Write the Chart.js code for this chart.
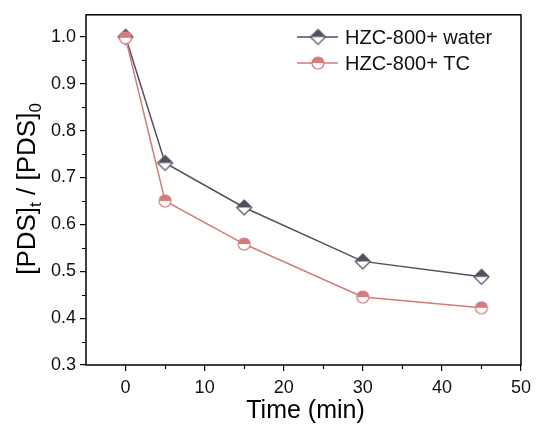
<!DOCTYPE html>
<html>
<head>
<meta charset="utf-8">
<script src="https://cdn.jsdelivr.net/npm/chart.js@4.4.1/dist/chart.umd.min.js"></script>
<style>
  html, body { margin: 0; padding: 0; background: #fff; }
  #wrap { width: 537px; height: 426px; }
</style>
</head>
<body>
<div id="wrap"><canvas id="chart" width="537" height="426"></canvas></div>
<script>
// data
const times = [0, 5, 15, 30, 45];
const waterValues = [1.0, 0.731, 0.636, 0.521, 0.488];
const tcValues = [0.998, 0.650, 0.558, 0.445, 0.422];
const seriesNames = ['HZC-800+ water', 'HZC-800+ TC'];
const xTicks = [0, 10, 20, 30, 40, 50];
const xMinorTicks = [5, 15, 25, 35, 45];
const yTicks = [0.3, 0.4, 0.5, 0.6, 0.7, 0.8, 0.9, 1.0];
const yMinorTicks = [0.35, 0.45, 0.55, 0.65, 0.75, 0.85, 0.95];

const FONT = 'Liberation Sans, Arial, sans-serif';
const waterColor = '#50505f';
const tcColor = '#d67b7b';

// half-filled marker images
function halfDiamond(r, color) {
    const c = document.createElement('canvas');
    const s = 2 * r + 4;
    c.width = s; c.height = s;
    const g = c.getContext('2d');
    const m = s / 2;
    g.beginPath();
    g.moveTo(m, m - r); g.lineTo(m + r, m); g.lineTo(m, m + r); g.lineTo(m - r, m);
    g.closePath();
    g.fillStyle = '#fff';
    g.fill();
    g.save();
    g.clip();
    g.fillStyle = color;
    g.fillRect(0, 0, s, m);
    g.restore();
    g.lineWidth = 1.2;
    g.strokeStyle = color;
    g.stroke();
    return c;
}

function halfCircle(r, color) {
    const c = document.createElement('canvas');
    const s = 2 * r + 4;
    c.width = s; c.height = s;
    const g = c.getContext('2d');
    const m = s / 2;
    g.beginPath();
    g.arc(m, m, r, 0, Math.PI * 2);
    g.fillStyle = '#fff';
    g.fill();
    g.save();
    g.clip();
    g.fillStyle = color;
    g.fillRect(0, 0, s, m);
    g.restore();
    g.lineWidth = 1.2;
    g.strokeStyle = color;
    g.stroke();
    return c;
}

const diamondImg = halfDiamond(7.5, waterColor);
const circleImg = halfCircle(6, tcColor);

const extras = {
    id: 'extras',
    afterDraw(chart) {
        const ctx = chart.ctx;
        const a = chart.chartArea;
        const xs = chart.scales.x, ys = chart.scales.y;
        ctx.save();
        ctx.strokeStyle = '#000';
        ctx.lineWidth = 1.5;
        ctx.strokeRect(a.left, a.top, a.right - a.left, a.bottom - a.top);

        // minor ticks
        ctx.lineWidth = 1.2;
        ctx.beginPath();
        xMinorTicks.forEach(v => {
            const px = Math.round(xs.getPixelForValue(v)) + 0.5;
            ctx.moveTo(px, a.bottom); ctx.lineTo(px, a.bottom + 4);
        });
        yMinorTicks.forEach(v => {
            const py = Math.round(ys.getPixelForValue(v)) + 0.5;
            ctx.moveTo(a.left, py); ctx.lineTo(a.left - 4, py);
        });
        ctx.stroke();

        // x title
        ctx.fillStyle = '#000';
        ctx.font = '25px ' + FONT;
        ctx.textAlign = 'center';
        ctx.textBaseline = 'alphabetic';
        ctx.fillText('Time (min)', (a.left + a.right) / 2 + 2, 418);

        // y title with subscripts
        const parts = [
            { t: '[PDS]', size: 26, dy: 0 },
            { t: 't', size: 17, dy: 6 },
            { t: ' / [PDS]', size: 26, dy: 0 },
            { t: '0', size: 17, dy: 6 }
        ];
        let total = 0;
        parts.forEach(p => { ctx.font = p.size + 'px ' + FONT; p.w = ctx.measureText(p.t).width; total += p.w; });
        ctx.translate(0, 189);
        ctx.rotate(-Math.PI / 2);
        ctx.textAlign = 'left';
        let u = -total / 2;
        parts.forEach(p => {
            ctx.font = p.size + 'px ' + FONT;
            ctx.fillText(p.t, u, 35 + p.dy);
            u += p.w;
        });
        ctx.restore();

        // legend
        ctx.save();
        const rows = [
            { name: seriesNames[0], color: waterColor, img: diamondImg, y: 37 },
            { name: seriesNames[1], color: tcColor, img: circleImg, y: 63 }
        ];
        rows.forEach(r => {
            ctx.strokeStyle = r.color;
            ctx.lineWidth = 1.5;
            ctx.beginPath();
            ctx.moveTo(297, r.y); ctx.lineTo(338, r.y);
            ctx.stroke();
            ctx.drawImage(r.img, 318 - r.img.width / 2, r.y - r.img.height / 2);
            ctx.fillStyle = '#111';
            ctx.font = '20px ' + FONT;
            ctx.textAlign = 'left';
            ctx.textBaseline = 'middle';
            ctx.fillText(r.name, 345, r.y + 1);
        });
        ctx.restore();
    }
};

new Chart(document.getElementById('chart').getContext('2d'), {
    type: 'line',
    data: {
        datasets: [
            {
                label: seriesNames[1],
                data: times.map((t, i) => ({ x: t, y: tcValues[i] })),
                borderColor: tcColor,
                borderWidth: 1.5,
                pointStyle: circleImg,
                pointRadius: 6,
                tension: 0
            },
            {
                label: seriesNames[0],
                data: times.map((t, i) => ({ x: t, y: waterValues[i] })),
                borderColor: waterColor,
                borderWidth: 1.5,
                pointStyle: diamondImg,
                pointRadius: 7,
                tension: 0
            }
        ]
    },
    options: {
        responsive: false,
        animation: false,
        layout: { padding: { left: 0, right: 13, top: 14, bottom: 0 } },
        plugins: { legend: { display: false }, tooltip: { enabled: false } },
        scales: {
            x: {
                type: 'linear',
                min: -5,
                max: 50,
                afterFit: s => { s.height = 61; },
                afterBuildTicks: s => { s.ticks = xTicks.map(v => ({ value: v })); },
                grid: { drawOnChartArea: false, color: '#000', tickLength: 6, lineWidth: 1.2 },
                border: { display: false },
                ticks: { color: '#111', font: { family: FONT, size: 18 }, padding: 6, maxRotation: 0 }
            },
            y: {
                min: 0.3,
                max: 1.047,
                afterFit: s => { s.width = 86; },
                afterBuildTicks: s => { s.ticks = yTicks.map(v => ({ value: v })); },
                grid: { drawOnChartArea: false, color: '#000', tickLength: 6, lineWidth: 1.2 },
                border: { display: false },
                ticks: { color: '#111', font: { family: FONT, size: 18 }, padding: 4, callback: v => v.toFixed(1) }
            }
        }
    },
    plugins: [extras]
});
</script>
</body>
</html>
